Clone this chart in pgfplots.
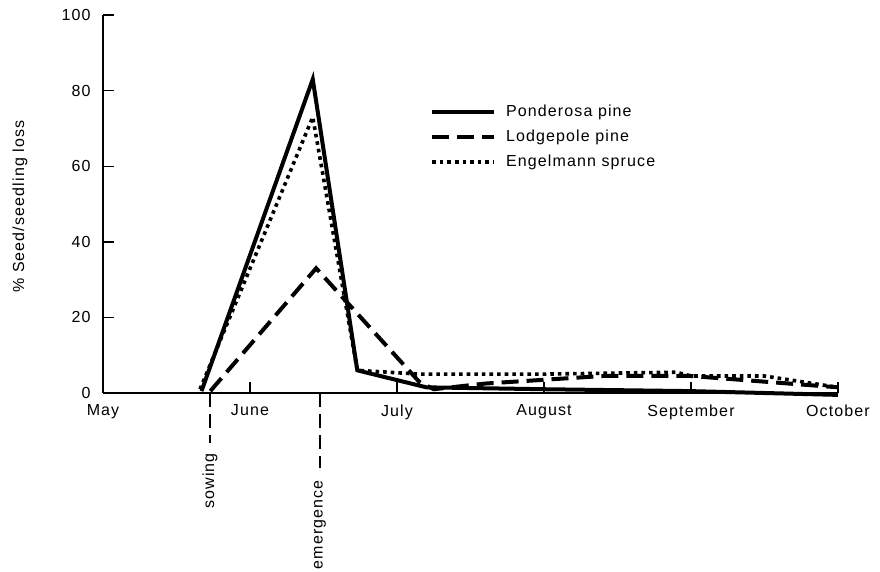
\documentclass[border=0pt]{standalone}
\usepackage{pgfplots}
\pgfplotsset{compat=1.18}
\usepackage{fontspec}
\setmainfont{Liberation Sans}[LetterSpace=7]
\begin{document}
\fontsize{16}{18}\selectfont
\begin{tikzpicture}
\path[use as bounding box] (-103pt,-178pt) rectangle (777pt,393pt);
\begin{axis}[
  at={(0pt,0pt)}, anchor=south west,
  scale only axis, width=735pt, height=378pt,
  xmin=0, xmax=5, ymin=0, ymax=100,
  axis lines=left, axis line style={-, line width=1.4pt},
  tick align=inside, major tick length=11pt,
  tick style={line width=1.4pt, black},
  xtick={0,1,2,3,4,5},
  xticklabels={May,June,July,August,September,October},
  ytick={0,20,40,60,80,100},
  clip=false,
  /pgf/number format/assume math mode=true,
  tick label style={font=\fontsize{16}{18}\selectfont},
  xticklabel style={yshift=-6pt},
  yticklabel style={xshift=-7pt},
  ylabel={\% Seed/seedling loss},
  ylabel style={at={(axis description cs:-0.113,0.493)}, anchor=center, rotate=0, font=\fontsize{16}{18}\selectfont},
  legend style={at={(axis cs:2.224,77)}, anchor=north west, draw=none, fill=none,
     inner sep=0pt, row sep=5pt, column sep=7pt, font=\fontsize{16}{18}\selectfont,
     nodes={inner sep=3pt}},
  legend cell align=left,
  legend image code/.code={\draw[#1] (0pt,0pt) -- (62pt,0pt);},
]
\addplot[black, line width=4pt, line join=miter] coordinates {
 (0.67,0.5) (1.427,83) (1.73,6) (2.2,1.5) (3,1) (4,0.5) (5,-0.5)};
\addlegendentry{Ponderosa pine}
\addplot[black, line width=4pt, dash pattern=on 17pt off 8pt] coordinates {
 (0.73,0.5) (1.45,33) (2.15,3) (2.25,1) (2.6,2.5) (3,3.5) (3.4,4.5) (4,4.5) (5,1.5)};
\addlegendentry{Lodgepole pine}
\addplot[black, line width=3.6pt, dash pattern=on 3.6pt off 4pt] coordinates {
 (0.66,1) (1.427,73) (1.73,6) (2.15,5) (3,5) (3.9,5.5) (4.0,4.5) (4.5,4.5) (5,1.5)};
\addlegendentry{Engelmann spruce}
\draw[line width=1.4pt, dash pattern=on 14pt off 7pt] (axis cs:0.728,0) -- ++(0,-52pt);
\node[rotate=90, anchor=east, inner sep=0pt] at ([yshift=-60pt]axis cs:0.728,0) {sowing};
\draw[line width=1.4pt, dash pattern=on 14pt off 7pt] (axis cs:1.476,0) -- ++(0,-77pt);
\node[rotate=90, anchor=east, inner sep=0pt] at ([yshift=-87pt]axis cs:1.476,0) {emergence};
\end{axis}
\end{tikzpicture}
\end{document}
